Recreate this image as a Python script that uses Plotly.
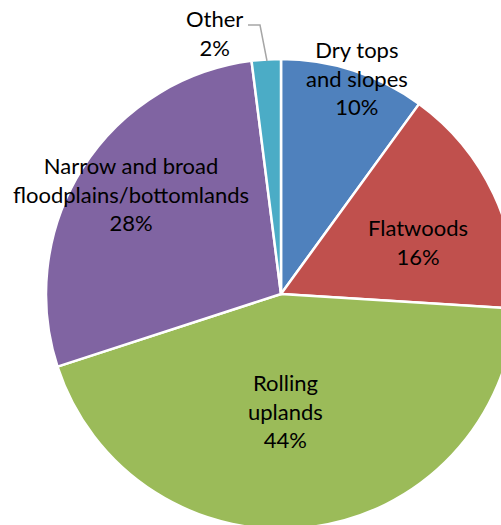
import plotly.graph_objects as go

# Land-type shares (percent), clockwise from 12 o'clock
categories = [
    "Dry tops and slopes",
    "Flatwoods",
    "Rolling uplands",
    "Narrow and broad floodplains/bottomlands",
    "Other",
]
values = [10, 16, 44, 28, 2]
colors = ["#4F81BD", "#C0504D", "#9BBB59", "#8064A2", "#4BACC6"]

# Multi-line display names for the slice labels
display_names = [
    "Dry tops<br>and slopes",
    "Flatwoods",
    "Rolling<br>uplands",
    "Narrow and broad<br>floodplains/bottomlands",
    "Other",
]

# Figure geometry (pixels); the pie runs past the right and bottom edges
W, H = 520, 535
ML, MR, MT, MB = 46, 4, 59, 6
PW, PH = W - ML - MR, H - MT - MB


def px_to_paper(x, y):
    return (x - ML) / PW, 1 - (y - MT) / PH


# Label centres in pixels
label_px = [(357, 78), (418, 242), (285, 411), (131, 194), (214, 33)]

fig = go.Figure(
    go.Pie(
        labels=categories,
        values=values,
        sort=False,
        direction="clockwise",
        rotation=0,
        marker=dict(colors=colors, line=dict(color="white", width=2.5)),
        textinfo="none",
        hoverinfo="label+percent",
        showlegend=False,
        domain=dict(x=[0, 1], y=[0, 1]),
    )
)

total = sum(values)
annotations = []
for name, v, (lx, ly) in zip(display_names, values, label_px):
    ax, ay = px_to_paper(lx, ly)
    annotations.append(
        dict(
            x=ax,
            y=ay,
            xref="paper",
            yref="paper",
            text=f"{name}<br>{round(100 * v / total)}%",
            showarrow=False,
            xanchor="center",
            yanchor="middle",
            font=dict(family="Lato", size=22, color="#000000"),
        )
    )

# Leader line for the small "Other" slice
p0 = px_to_paper(248, 25)
p1 = px_to_paper(260, 25)
p2 = px_to_paper(267, 61)
leader = dict(
    type="path",
    xref="paper",
    yref="paper",
    path=f"M {p0[0]} {p0[1]} L {p1[0]} {p1[1]} L {p2[0]} {p2[1]}",
    line=dict(color="#A6A6A6", width=1.5),
)

fig.update_layout(
    width=W,
    height=H,
    margin=dict(l=ML, r=MR, t=MT, b=MB),
    paper_bgcolor="white",
    plot_bgcolor="white",
    annotations=annotations,
    shapes=[leader],
)

fig.write_html(
    "out.html",
    post_script=(
        "document.documentElement.style.overflow='hidden';"
        "document.body.style.overflow='hidden';"
        "document.body.style.margin='0';"
    ),
)
